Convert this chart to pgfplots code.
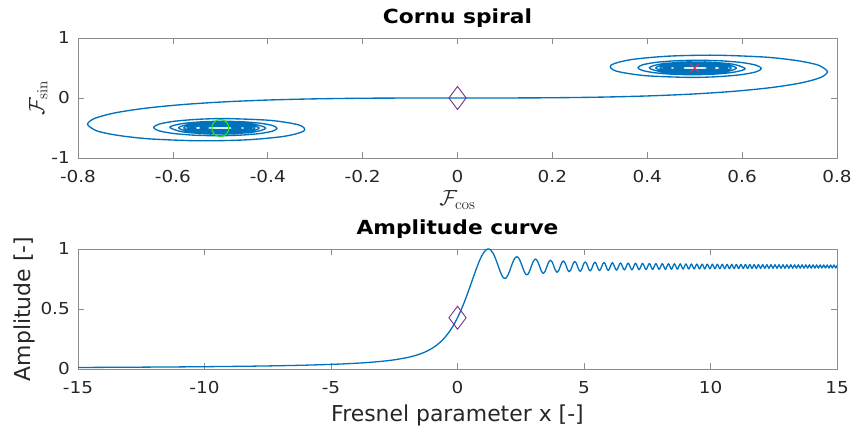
\RequirePackage{fix-cm}
\documentclass[border=0pt]{standalone}
\usepackage[no-math]{fontspec}
\setmainfont{DejaVu Sans}
\newfontfamily\stretchfont[FakeStretch=1.12]{DejaVu Sans}
\usepackage{pgfplots}
\usepackage{pgfplotstable}
\pgfplotsset{compat=1.18}
\definecolor{mblue}{rgb}{0,0.447,0.741}
\definecolor{mpurple}{rgb}{0.494,0.184,0.556}
\definecolor{mgreen}{rgb}{0.1,0.9,0.1}
\definecolor{mred}{rgb}{0.95,0.2,0.25}
\definecolor{axgray}{rgb}{0.55,0.55,0.55}
\definecolor{txtgray}{rgb}{0.15,0.15,0.15}

\pgfplotstableread{
t C S nC nS
0 0 0 0 0
0.1 0.09999 0.00052 -0.09999 -0.00052
0.2 0.19992 0.00419 -0.19992 -0.00419
0.3 0.29940 0.01413 -0.29940 -0.01413
0.4 0.39748 0.03343 -0.39748 -0.03343
0.5 0.49234 0.06473 -0.49234 -0.06473
0.6 0.58110 0.11054 -0.58110 -0.11054
0.7 0.65965 0.17214 -0.65965 -0.17214
0.8 0.72284 0.24934 -0.72284 -0.24934
0.9 0.76482 0.33978 -0.76482 -0.33978
1.0 0.77989 0.43826 -0.77989 -0.43826
1.1 0.76381 0.53650 -0.76381 -0.53650
1.15 0.74371 0.58219 -0.74371 -0.58219
1.2 0.71544 0.62340 -0.71544 -0.62340
1.25 0.68026 0.65865 -0.68026 -0.65865
1.3 0.63855 0.68633 -0.63855 -0.68633
1.4 0.54310 0.71353 -0.54310 -0.71353
1.5 0.44526 0.69750 -0.44526 -0.69750
1.6 0.36546 0.63889 -0.36546 -0.63889
1.7 0.32383 0.54920 -0.32383 -0.54920
1.8 0.33363 0.45094 -0.33363 -0.45094
1.9 0.39447 0.37335 -0.39447 -0.37335
2.0 0.48825 0.34342 -0.48825 -0.34342
2.0616 0.54831 0.35571 -0.54831 -0.35571
2.1213 0.59757 0.38855 -0.59757 -0.38855
2.1794 0.62962 0.43643 -0.62962 -0.43643
2.2361 0.64062 0.49149 -0.64062 -0.49149
2.2913 0.62998 0.54523 -0.62998 -0.54523
2.3452 0.60029 0.58973 -0.60029 -0.58973
2.3979 0.55681 0.61883 -0.55681 -0.61883
2.4495 0.50660 0.62885 -0.50660 -0.62885
2.5 0.45742 0.61910 -0.45742 -0.61910
2.5495 0.41652 0.59182 -0.41652 -0.59182
2.5981 0.38970 0.55173 -0.38970 -0.55173
2.6458 0.38044 0.50530 -0.38044 -0.50530
2.6926 0.38948 0.45968 -0.38948 -0.45968
2.7386 0.41487 0.42165 -0.41487 -0.42165
2.7839 0.45224 0.39665 -0.45224 -0.39665
2.8284 0.49563 0.38799 -0.49563 -0.38799
2.8723 0.53836 0.39648 -0.53836 -0.39648
2.9155 0.57405 0.42029 -0.57405 -0.42029
2.9580 0.59755 0.45543 -0.59755 -0.45543
3.0 0.60570 0.49632 -0.60570 -0.49632
3.0822 0.57519 0.57037 -0.57519 -0.57037
3.1623 0.50316 0.60035 -0.50316 -0.60035
3.2404 0.43281 0.57135 -0.43281 -0.57135
3.3166 0.40427 0.50274 -0.40427 -0.50274
3.3912 0.43196 0.43560 -0.43196 -0.43560
3.4641 0.49759 0.40830 -0.49759 -0.40830
3.5355 0.56193 0.43485 -0.56193 -0.43485
3.6056 0.58812 0.49786 -0.58812 -0.49786
3.6742 0.56259 0.55973 -0.56259 -0.55973
3.7417 0.50192 0.58494 -0.50192 -0.58494
3.8079 0.44227 0.56031 -0.44227 -0.56031
3.8730 0.41792 0.50173 -0.41792 -0.50173
3.9370 0.44173 0.44407 -0.44173 -0.44407
4.0 0.49843 0.42052 -0.49843 -0.42052
4.0620 0.55429 0.44359 -0.55429 -0.44359
4.1231 0.57712 0.49856 -0.57712 -0.49856
4.1833 0.55472 0.55278 -0.55472 -0.55278
4.2426 0.50132 0.57496 -0.50132 -0.57496
4.3012 0.44862 0.55318 -0.44862 -0.55318
4.3589 0.42703 0.50122 -0.42703 -0.50122
4.4159 0.44824 0.44990 -0.44824 -0.44990
4.4721 0.49887 0.42887 -0.49887 -0.42887
4.5277 0.54890 0.44956 -0.54890 -0.44956
4.5826 0.56941 0.49895 -0.56941 -0.49895
4.6368 0.54923 0.54779 -0.54923 -0.54779
4.6904 0.50098 0.56782 -0.50098 -0.56782
4.7434 0.45324 0.54810 -0.45324 -0.54810
4.7958 0.43367 0.50092 -0.43367 -0.50092
4.8477 0.45297 0.45423 -0.45297 -0.45423
4.8990 0.49914 0.43505 -0.49914 -0.43505
4.9497 0.54486 0.45396 -0.54486 -0.45396
5.0 0.56363 0.49919 -0.56363 -0.49919
5.0498 0.54511 0.54399 -0.54511 -0.54399
5.0990 0.50076 0.56240 -0.50076 -0.56240
5.1478 0.45682 0.54422 -0.45682 -0.54422
5.1962 0.43877 0.50072 -0.43877 -0.50072
5.2440 0.45659 0.45759 -0.45659 -0.45759
5.2915 0.49932 0.43986 -0.49932 -0.43986
5.3385 0.54168 0.45738 -0.54168 -0.45738
5.3852 0.55909 0.49935 -0.55909 -0.49935
5.4314 0.54188 0.54098 -0.54188 -0.54098
5.4772 0.50062 0.55810 -0.50062 -0.55810
5.5227 0.45969 0.54117 -0.45969 -0.54117
5.5678 0.44285 0.50059 -0.44285 -0.50059
5.6125 0.45951 0.46031 -0.45951 -0.46031
5.6569 0.49944 0.44375 -0.49944 -0.44375
5.7009 0.53908 0.46014 -0.53908 -0.46014
5.7446 0.55540 0.49947 -0.55540 -0.49947
5.7879 0.53925 0.53851 -0.53925 -0.53851
5.8310 0.50051 0.55458 -0.50051 -0.55458
5.8737 0.46204 0.53866 -0.46204 -0.53866
5.9161 0.44621 0.50049 -0.44621 -0.50049
5.9582 0.46189 0.46257 -0.46189 -0.46257
6.0 0.49953 0.44696 -0.49953 -0.44696
6.0415 0.53726 0.46274 -0.53726 -0.46274
6.1237 0.53676 0.53676 -0.53676 -0.53676
6.2048 0.46373 0.53627 -0.46373 -0.53627
6.2849 0.46419 0.46419 -0.46419 -0.46419
6.3640 0.53537 0.46463 -0.53537 -0.46463
6.4420 0.53494 0.53494 -0.53494 -0.53494
6.5192 0.46547 0.53453 -0.46547 -0.53453
6.5955 0.46587 0.46587 -0.46587 -0.46587
6.6708 0.53374 0.46626 -0.53374 -0.46626
6.7454 0.53337 0.53337 -0.53337 -0.53337
6.8191 0.46699 0.53301 -0.46699 -0.53301
6.8920 0.46734 0.46734 -0.46734 -0.46734
6.9642 0.53232 0.46768 -0.53232 -0.46768
7.0356 0.53199 0.53199 -0.53199 -0.53199
7.1063 0.46833 0.53167 -0.46833 -0.53167
7.1764 0.46864 0.46864 -0.46864 -0.46864
7.2457 0.53106 0.46894 -0.53106 -0.46894
7.3144 0.53077 0.53077 -0.53077 -0.53077
7.3824 0.46951 0.53049 -0.46951 -0.53049
7.4498 0.46979 0.46979 -0.46979 -0.46979
7.5167 0.52994 0.47006 -0.52994 -0.47006
7.5829 0.52968 0.52968 -0.52968 -0.52968
7.6485 0.47057 0.52943 -0.47057 -0.52943
7.7136 0.47082 0.47082 -0.47082 -0.47082
7.7782 0.52894 0.47106 -0.52894 -0.47106
7.8422 0.52870 0.52870 -0.52870 -0.52870
7.9057 0.47153 0.52847 -0.47153 -0.52847
7.9687 0.47175 0.47175 -0.47175 -0.47175
8.0312 0.52803 0.47197 -0.52803 -0.47197
8.0932 0.52781 0.52781 -0.52781 -0.52781
8.1548 0.47240 0.52760 -0.47240 -0.52760
8.2158 0.47260 0.47260 -0.47260 -0.47260
8.2765 0.52720 0.47280 -0.52720 -0.47280
8.3367 0.52700 0.52700 -0.52700 -0.52700
8.3964 0.47319 0.52681 -0.47319 -0.52681
8.4558 0.47338 0.47338 -0.47338 -0.47338
8.5147 0.52643 0.47357 -0.52643 -0.47357
8.5732 0.52625 0.52625 -0.52625 -0.52625
8.6313 0.47392 0.52608 -0.47392 -0.52608
8.6891 0.47410 0.47410 -0.47410 -0.47410
8.7464 0.52573 0.47427 -0.52573 -0.47427
8.8034 0.52557 0.52557 -0.52557 -0.52557
8.8600 0.47460 0.52540 -0.47460 -0.52540
8.9163 0.47476 0.47476 -0.47476 -0.47476
8.9722 0.52509 0.47491 -0.52509 -0.47491
9.0277 0.52493 0.52493 -0.52493 -0.52493
9.0830 0.47522 0.52478 -0.47522 -0.52478
9.1378 0.47537 0.47537 -0.47537 -0.47537
9.1924 0.52449 0.47551 -0.52449 -0.47551
9.2466 0.52434 0.52434 -0.52434 -0.52434
9.3005 0.47580 0.52420 -0.47580 -0.52420
9.3541 0.47594 0.47594 -0.47594 -0.47594
9.4074 0.52393 0.47607 -0.52393 -0.47607
9.4604 0.52379 0.52379 -0.52379 -0.52379
9.5132 0.47634 0.52366 -0.47634 -0.52366
9.5656 0.47647 0.47647 -0.47647 -0.47647
9.6177 0.52340 0.47660 -0.52340 -0.47660
9.6695 0.52328 0.52328 -0.52328 -0.52328
9.7211 0.47685 0.52315 -0.47685 -0.52315
9.7724 0.47697 0.47697 -0.47697 -0.47697
9.8234 0.52291 0.47709 -0.52291 -0.47709
9.8742 0.52279 0.52279 -0.52279 -0.52279
9.9247 0.47732 0.52268 -0.47732 -0.52268
9.9750 0.47744 0.47744 -0.47744 -0.47744
}\spiral

\pgfplotstableread{
t A
-15 0.0128
-14 0.0137
-13 0.0148
-12 0.0160
-11 0.0175
-10 0.0192
-9 0.0214
-8 0.0240
-7 0.0275
-6 0.0320
-5 0.0385
-4.5 0.0427
-4 0.0481
-3.5 0.0549
-3 0.0639
-2.5 0.0764
-2 0.0948
-1.8 0.1048
-1.7 0.1105
-1.6 0.1168
-1.5 0.1238
-1.4 0.1316
-1.3 0.1403
-1.2 0.1500
-1.1 0.1609
-1.0 0.1731
-0.9 0.1870
-0.8 0.2026
-0.7 0.2203
-0.6 0.2403
-0.5 0.2629
-0.4 0.2885
-0.3 0.3175
-0.2 0.3500
-0.1 0.3865
0 0.4271
0.1 0.4719
0.2 0.5210
0.3 0.5741
0.4 0.6306
0.5 0.6896
0.6 0.7499
0.7 0.8096
0.8 0.8662
0.9 0.9170
1.0 0.9585
1.1 0.9873
1.15 0.9958
1.2 0.9997
1.25 0.9990
1.3 0.9932
1.4 0.9665
1.5 0.9215
1.6 0.8640
1.7 0.8057
1.8 0.7638
1.9 0.7551
2.0 0.7847
2.0616 0.8173
2.1213 0.8530
2.1794 0.8863
2.2361 0.9128
2.2913 0.9297
2.3452 0.9354
2.3979 0.9296
2.4495 0.9135
2.5 0.8896
2.5495 0.8610
2.5981 0.8321
2.6458 0.8071
2.6926 0.7903
2.7386 0.7844
2.7839 0.7900
2.8284 0.8058
2.8723 0.8286
2.9155 0.8543
2.9580 0.8789
3.0 0.8990
3.0822 0.9163
3.1623 0.8993
3.2404 0.8580
3.3166 0.8155
3.3912 0.7976
3.4641 0.8149
3.5355 0.8545
3.6056 0.8917
3.6742 0.9064
3.7417 0.8920
3.8079 0.8568
3.8730 0.8206
3.9370 0.8054
4.0 0.8202
4.0620 0.8546
4.1231 0.8871
4.1833 0.9001
4.2426 0.8873
4.3012 0.8561
4.3589 0.8242
4.4159 0.8107
4.4721 0.8239
4.5277 0.8546
4.5826 0.8839
4.6368 0.8956
4.6904 0.8840
4.7434 0.8557
4.7958 0.8268
4.8477 0.8145
4.8990 0.8265
4.9497 0.8546
5.0 0.8814
5.0498 0.8922
5.0990 0.8816
5.1478 0.8554
5.1962 0.8288
5.2440 0.8175
5.2915 0.8286
5.3385 0.8545
5.3852 0.8795
5.4314 0.8896
5.4772 0.8796
5.5227 0.8553
5.5678 0.8304
5.6125 0.8199
5.6569 0.8303
5.7009 0.8545
5.7446 0.8780
5.7879 0.8874
5.8310 0.8780
5.8737 0.8551
5.9161 0.8318
5.9582 0.8219
6.0 0.8317
6.1237 0.8856
6.2849 0.8236
6.4420 0.8840
6.5955 0.8250
6.7454 0.8827
6.8920 0.8263
7.0356 0.8815
7.1764 0.8274
7.3144 0.8805
7.4498 0.8284
7.5829 0.8795
7.7136 0.8293
7.8422 0.8787
7.9687 0.8301
8.0932 0.8780
8.2158 0.8308
8.3367 0.8773
8.4558 0.8315
8.5732 0.8766
8.6891 0.8321
8.8034 0.8760
8.9163 0.8326
9.0277 0.8755
9.1378 0.8332
9.2466 0.8750
9.3541 0.8336
9.4604 0.8745
9.5656 0.8341
9.6695 0.8741
9.7724 0.8345
9.8742 0.8737
9.9750 0.8349
10.0747 0.8733
10.1735 0.8353
10.2713 0.8729
10.3682 0.8356
10.4642 0.8726
10.5594 0.8360
10.6536 0.8722
10.7471 0.8363
10.8397 0.8719
10.9316 0.8366
11.0227 0.8716
11.1131 0.8369
11.2027 0.8714
11.2916 0.8372
11.3798 0.8711
11.4673 0.8374
11.5542 0.8708
11.6404 0.8377
11.7260 0.8706
11.8110 0.8379
11.8954 0.8704
11.9791 0.8381
12.0623 0.8701
12.1450 0.8384
12.2270 0.8699
12.3085 0.8386
12.3895 0.8697
12.4700 0.8388
12.5499 0.8695
12.6293 0.8390
12.7083 0.8693
12.7867 0.8392
12.8647 0.8691
12.9422 0.8393
13.0192 0.8690
13.0958 0.8395
13.1719 0.8688
13.2476 0.8397
13.3229 0.8686
13.3978 0.8398
13.4722 0.8685
13.5462 0.8400
13.6198 0.8683
13.6931 0.8402
13.7659 0.8682
13.8384 0.8403
13.9104 0.8680
13.9821 0.8404
14.0535 0.8679
14.1244 0.8406
14.1951 0.8677
14.2653 0.8407
14.3353 0.8676
14.4049 0.8408
14.4741 0.8675
14.5430 0.8410
14.6116 0.8674
14.6799 0.8411
14.7479 0.8672
14.8155 0.8412
14.8829 0.8671
14.9499 0.8413
15 0.8633
}\amp

\pgfplotsset{
  matstyle/.style={
    scale only axis, width=759bp, height=120bp, anchor=south west,
    axis line style={draw=axgray, line width=0.6bp},
    tick style={draw=axgray, line width=0.6bp},
    tick align=inside, major tick length=6bp,
    tick label style={font=\stretchfont\fontsize{16.5}{18}\selectfont, text=txtgray},
    xticklabel style={inner sep=0pt, anchor=north, yshift=-12bp},
    yticklabel style={inner sep=0pt, anchor=east, xshift=-8bp},
    title style={font=\stretchfont\bfseries\fontsize{19.5}{22}\selectfont, text=black, at={(0.5,1)}, anchor=base, yshift=9bp},
    label style={font=\fontsize{22}{26}\selectfont, text=txtgray},
    clip=true,
  },
}

\begin{document}
\begin{tikzpicture}
\path[use as bounding box] (0,0) rectangle (860bp,428bp);
\begin{axis}[matstyle, at={(78bp,270bp)},
  xmin=-0.8, xmax=0.8, ymin=-1, ymax=1,
  xtick={-0.8,-0.6,-0.4,-0.2,0,0.2,0.4,0.6,0.8},
  xticklabels={-0.8,-0.6,-0.4,-0.2,0,0.2,0.4,0.6,0.8},
  ytick={-1,0,1}, yticklabels={-1,0,1},
  title={Cornu spiral},
  xlabel={$\mathcal{F}_{\cos}$},
  ylabel={$\mathcal{F}_{\sin}$},
  xlabel style={at={(axis description cs:0.5,0)}, anchor=base, yshift=-48bp},
  ylabel style={at={([xshift=-34bp]axis description cs:0,0.5)}, anchor=base},
]
\addplot[mblue, line width=1.35bp, line join=round, smooth, tension=0.5] table[x=C, y=S] {\spiral};
\addplot[mblue, line width=1.35bp, line join=round, smooth, tension=0.5] table[x=nC, y=nS] {\spiral};
\addplot[only marks, mark=diamond, mark size=11.5bp, mpurple, mark options={line width=0.9bp, fill=none}] coordinates {(0,0)};
\addplot[only marks, mark=o, mark size=8.5bp, mgreen, mark options={line width=1.2bp}] coordinates {(-0.5,-0.5)};
\addplot[only marks, mark=x, mark size=6bp, mred, mark options={line width=0.9bp}] coordinates {(0.5,0.5)};
\end{axis}
\begin{axis}[matstyle, at={(78bp,59bp)},
  xmin=-15, xmax=15, ymin=0, ymax=1,
  xtick={-15,-10,-5,0,5,10,15},
  xticklabels={-15,-10,-5,0,5,10,15},
  ytick={0,0.5,1}, yticklabels={0,0.5,1},
  title={Amplitude curve},
  xlabel={Fresnel parameter x [-]},
  ylabel={Amplitude [-]},
  xlabel style={at={(axis description cs:0.5,0)}, anchor=base, yshift=-52bp},
  ylabel style={at={([xshift=-47bp]axis description cs:0,0.5)}, anchor=base},
]
\addplot[mblue, line width=1.3bp, line join=round, smooth, tension=0.5] table[x=t, y=A] {\amp};
\addplot[only marks, mark=diamond, mark size=11.5bp, mpurple, mark options={line width=0.9bp, fill=none}] coordinates {(0,0.4271)};
\end{axis}
\end{tikzpicture}
\end{document}
